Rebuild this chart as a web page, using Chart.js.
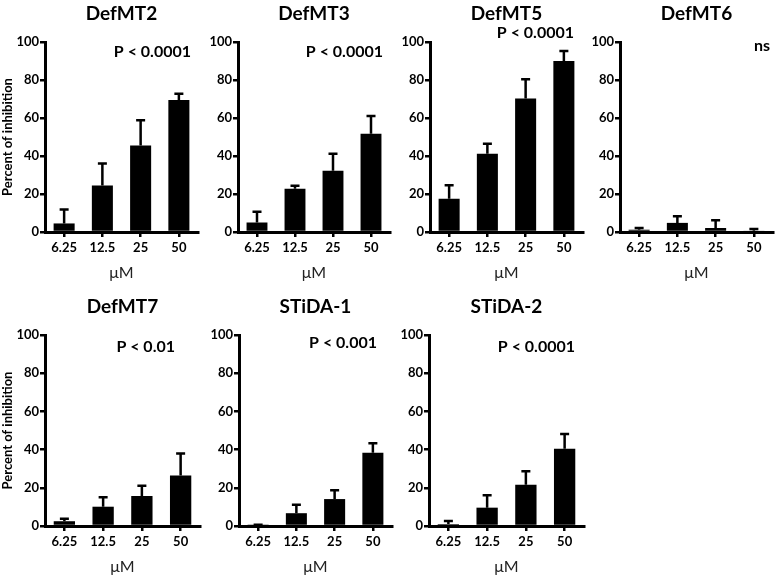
<!DOCTYPE html>
<html><head><meta charset="utf-8">
<script src="https://cdn.jsdelivr.net/npm/chart.js@4"></script>
<style>
html,body{margin:0;padding:0;background:#fff;}
#wrap{position:relative;width:777px;height:576px;overflow:hidden;background:#fff;}
canvas{position:absolute;}
</style></head><body><div id="wrap"></div>
<script>
// ---- data ----
const categories = ['6.25', '12.5', '25', '50'];
const yTickValues = [0, 20, 40, 60, 80, 100];
const xAxisLabel = 'μM';
const yAxisLabel = 'Percent of inhibition';

const titles = ['DefMT2', 'DefMT3', 'DefMT5', 'DefMT6', 'DefMT7', 'STiDA-1', 'STiDA-2'];
const pLabels = ['P < 0.0001', 'P < 0.0001', 'P < 0.0001', 'ns', 'P < 0.01', 'P < 0.001', 'P < 0.0001'];

const defMT2 = [4.5, 24.5, 45.5, 69.5];
const defMT2Err = [7.3, 11.5, 13.3, 3.3];
const defMT3 = [5.0, 22.7, 32.2, 51.7];
const defMT3Err = [5.6, 1.7, 9.0, 9.3];
const defMT5 = [17.5, 41.2, 70.2, 90.0];
const defMT5Err = [7.1, 5.3, 10.2, 5.3];
const defMT6 = [1.2, 4.8, 2.1, 0.7];
const defMT6Err = [0.9, 3.5, 4.1, 0.9];
const defMT7 = [2.5, 10.1, 15.7, 26.4];
const defMT7Err = [1.3, 4.9, 5.4, 11.6];
const stida1 = [0.3, 6.7, 14.1, 38.4];
const stida1Err = [0.3, 4.4, 4.6, 4.9];
const stida2 = [1.0, 9.6, 21.6, 40.5];
const stida2Err = [1.6, 6.5, 7.0, 7.7];

const seriesValues = [defMT2, defMT3, defMT5, defMT6, defMT7, stida1, stida2];
const seriesErrors = [defMT2Err, defMT3Err, defMT5Err, defMT6Err, defMT7Err, stida1Err, stida2Err];

// ---- layout (positions / styles) ----
const panels = [
  {left: 0,   top: 0,   width: 200, height: 282, padTop: 0, showY: true,  pdx: -7,  pdy: 10},
  {left: 193, top: 0,   width: 199, height: 282, padTop: 0, showY: false, pdx: -7,  pdy: 10},
  {left: 385, top: 0,   width: 200, height: 282, padTop: 0, showY: false, pdx: -9,  pdy: -9},
  {left: 575, top: 0,   width: 200, height: 282, padTop: 0, showY: false, pdx: -3,  pdy: 4},
  {left: 0,   top: 290, width: 202, height: 286, padTop: 3, showY: true,  pdx: -25, pdy: 12},
  {left: 194, top: 290, width: 200, height: 286, padTop: 3, showY: false, pdx: -15, pdy: 8},
  {left: 384, top: 290, width: 202, height: 286, padTop: 3, showY: false, pdx: -9,  pdy: 12}
];

const FONT = 'Lato';

const errorBarPlugin = {
  id: 'errorBars',
  afterDatasetsDraw(chart) {
    const ctx = chart.ctx;
    const yScale = chart.scales.y;
    chart.data.datasets.forEach((ds, di) => {
      const meta = chart.getDatasetMeta(di);
      meta.data.forEach((el, i) => {
        const err = ds.errors[i];
        const yTop = yScale.getPixelForValue(ds.data[i] + err);
        ctx.save();
        ctx.strokeStyle = '#000';
        ctx.lineWidth = 2.5;
        ctx.beginPath();
        ctx.moveTo(el.x, el.y);
        ctx.lineTo(el.x, yTop);
        ctx.moveTo(el.x - 4.5, yTop);
        ctx.lineTo(el.x + 4.5, yTop);
        ctx.stroke();
        ctx.restore();
      });
    });
  }
};

const pLabelPlugin = {
  id: 'pLabel',
  afterDraw(chart, args, opts) {
    const ctx = chart.ctx;
    const a = chart.chartArea;
    ctx.save();
    ctx.fillStyle = '#000';
    ctx.font = 'bold 16px ' + FONT;
    ctx.textAlign = 'right';
    ctx.textBaseline = 'middle';
    ctx.fillText(opts.text, a.right + opts.dx, a.top + opts.dy);
    ctx.restore();
  }
};

const wrap = document.getElementById('wrap');
panels.forEach((p, idx) => {
  const c = document.createElement('canvas');
  c.width = p.width; c.height = p.height;
  c.style.left = p.left + 'px'; c.style.top = p.top + 'px';
  c.style.width = p.width + 'px'; c.style.height = p.height + 'px';
  wrap.appendChild(c);
  new Chart(c, {
    type: 'bar',
    data: {
      labels: categories,
      datasets: [{
        data: seriesValues[idx],
        errors: seriesErrors[idx],
        backgroundColor: '#000',
        borderWidth: 0,
        barPercentage: 0.55,
        categoryPercentage: 1
      }]
    },
    options: {
      responsive: false,
      animation: false,
      devicePixelRatio: 1,
      layout: {padding: {top: p.padTop, right: 2, left: 0, bottom: 0}},
      plugins: {
        legend: {display: false},
        tooltip: {enabled: false},
        title: {
          display: true, text: titles[idx], fullSize: false, color: '#000',
          font: {family: FONT, size: 19, weight: 'bold', lineHeight: 1.2},
          padding: {top: 2.6, bottom: 16.6}
        },
        pLabel: {text: pLabels[idx], dx: p.pdx, dy: p.pdy}
      },
      scales: {
        x: {
          grid: {display: true, offset: false, drawOnChartArea: false, drawTicks: true, tickLength: 5, lineWidth: 2.5, color: '#000'},
          border: {display: true, width: 3, color: '#000'},
          ticks: {color: '#000', font: {family: FONT, size: 13, weight: 'bold'}, padding: 3, maxRotation: 0, autoSkip: false},
          title: {display: true, text: xAxisLabel, color: '#222', font: {family: FONT, size: 16}, padding: {top: 0, bottom: 0}},
          afterFit: s => { s.height = 50; }
        },
        y: {
          min: 0, max: 100,
          afterBuildTicks: s => { s.ticks = yTickValues.map(v => ({value: v})); },
          grid: {drawOnChartArea: false, drawTicks: true, tickLength: 5, lineWidth: 2.5, color: '#000'},
          border: {display: true, width: 3, color: '#000'},
          ticks: {color: '#000', font: {family: FONT, size: 13, weight: 'bold'}, padding: 1},
          title: {display: p.showY, text: yAxisLabel, color: '#000', font: {family: FONT, size: 13, weight: 'bold'}, padding: {top: 0, bottom: 0}},
          afterFit: s => { s.width = 45; }
        }
      }
    },
    plugins: [errorBarPlugin, pLabelPlugin]
  });
});
</script>
</body></html>
